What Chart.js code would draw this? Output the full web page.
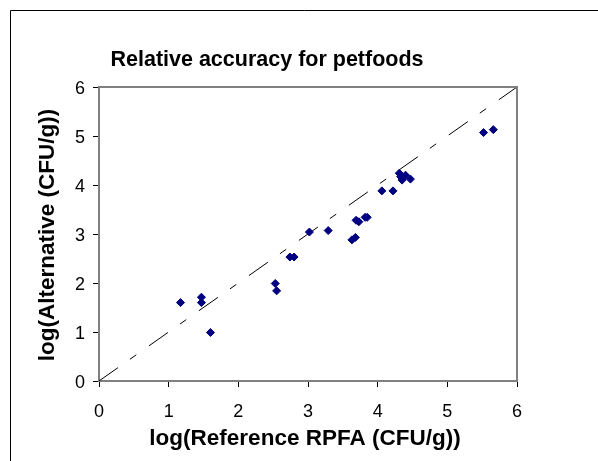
<!DOCTYPE html>
<html>
<head>
<meta charset="utf-8">
<script src="https://cdn.jsdelivr.net/npm/chart.js@4.4.1/dist/chart.umd.min.js"></script>
<style>
html,body{margin:0;padding:0;background:#fff;}
#wrap{width:598px;height:461px;position:relative;}
</style>
</head>
<body>
<div id="wrap"><canvas id="c" width="598" height="461"></canvas></div>
<script>
const chartTitle = "Relative accuracy for petfoods";
const xTitle = "log(Reference RPFA (CFU/g))";
const yTitle = "log(Alternative (CFU/g))";
const refValues = [1.17, 1.47, 1.47, 1.60, 2.53, 2.55, 2.74, 2.80, 3.02, 3.29, 3.63, 3.68, 3.69, 3.73, 3.82, 3.85, 4.06, 4.22, 4.31, 4.33, 4.35, 4.40, 4.47, 5.52, 5.66];
const altValues = [1.60, 1.71, 1.60, 0.99, 1.99, 1.84, 2.53, 2.53, 3.04, 3.07, 2.88, 2.93, 3.28, 3.25, 3.34, 3.34, 3.88, 3.88, 4.24, 4.17, 4.10, 4.20, 4.12, 5.07, 5.13];
const identityLine = [0, 6];
const tickValues = [0, 1, 2, 3, 4, 5, 6];

const points = refValues.map((x, i) => ({x: x, y: altValues[i]}));
const linePts = identityLine.map(v => ({x: v, y: v}));
const FONT = '"Liberation Sans", Arial, sans-serif';

function drawText(ctx, text, cx, cy, rot) {
  ctx.save();
  ctx.translate(cx, cy);
  if (rot) ctx.rotate(rot);
  ctx.fillText(text, 0, 0);
  ctx.restore();
}

const framePlugin = {
  id: 'frame',
  beforeDraw(chart) {
    const ctx = chart.ctx;
    ctx.save();
    ctx.fillStyle = '#fff';
    ctx.fillRect(0, 0, chart.width, chart.height);
    ctx.strokeStyle = '#000';
    ctx.lineWidth = 1;
    ctx.beginPath();
    ctx.moveTo(10.5, chart.height + 5);
    ctx.lineTo(10.5, 10.5);
    ctx.lineTo(chart.width + 5, 10.5);
    ctx.stroke();
    ctx.restore();
  },
  afterDraw(chart) {
    const ctx = chart.ctx;
    const a = chart.chartArea;
    ctx.save();
    ctx.strokeStyle = '#808080';
    ctx.lineWidth = 2;
    ctx.beginPath();
    ctx.moveTo(a.left, a.top);
    ctx.lineTo(a.right, a.top);
    ctx.lineTo(a.right, a.bottom);
    ctx.stroke();
    ctx.fillStyle = '#000';
    ctx.textAlign = 'center';
    ctx.textBaseline = 'middle';
    ctx.font = 'bold 21.5px ' + FONT;
    drawText(ctx, chartTitle, 267, 60, 0);
    ctx.font = 'bold 22.5px ' + FONT;
    drawText(ctx, xTitle, 305, 439, 0);
    drawText(ctx, yTitle, 48, 235, -Math.PI / 2);
    ctx.restore();
  }
};

new Chart(document.getElementById('c'), {
  type: 'scatter',
  data: {
    datasets: [
      {
        type: 'line',
        data: linePts,
        borderColor: '#000',
        borderWidth: 1,
        borderDash: [23.2, 14.7, 7.7, 15.5],
        pointRadius: 0,
        fill: false,
        order: 2
      },
      {
        data: points,
        pointStyle: 'rectRot',
        pointRadius: 4,
        pointBorderWidth: 1,
        backgroundColor: '#000080',
        borderColor: '#000080',
        order: 1
      }
    ]
  },
  options: {
    responsive: false,
    animation: false,
    devicePixelRatio: 1,
    layout: { padding: { top: 87, right: 81, left: 0, bottom: 0 } },
    plugins: { legend: { display: false }, tooltip: { enabled: false }, title: { display: false } },
    scales: {
      x: {
        type: 'linear',
        min: 0, max: 6,
        afterBuildTicks(s) { s.ticks = tickValues.map(v => ({value: v})); },
        afterFit(s) { s.height = 80; },
        grid: { drawOnChartArea: false, tickLength: 6, tickColor: '#000', tickWidth: 1 },
        border: { color: '#808080', width: 2 },
        ticks: { color: '#000', font: { family: FONT, size: 18 }, padding: 14, maxRotation: 0 },
        title: { display: false }
      },
      y: {
        type: 'linear',
        min: 0, max: 6,
        afterBuildTicks(s) { s.ticks = tickValues.map(v => ({value: v})); },
        afterFit(s) { s.width = 99; },
        grid: { drawOnChartArea: false, tickLength: 6, tickColor: '#000', tickWidth: 1 },
        border: { color: '#808080', width: 2 },
        ticks: { color: '#000', font: { family: FONT, size: 18 }, padding: 8, labelOffset: 2 },
        title: { display: false }
      }
    }
  },
  plugins: [framePlugin]
});
</script>
</body>
</html>
